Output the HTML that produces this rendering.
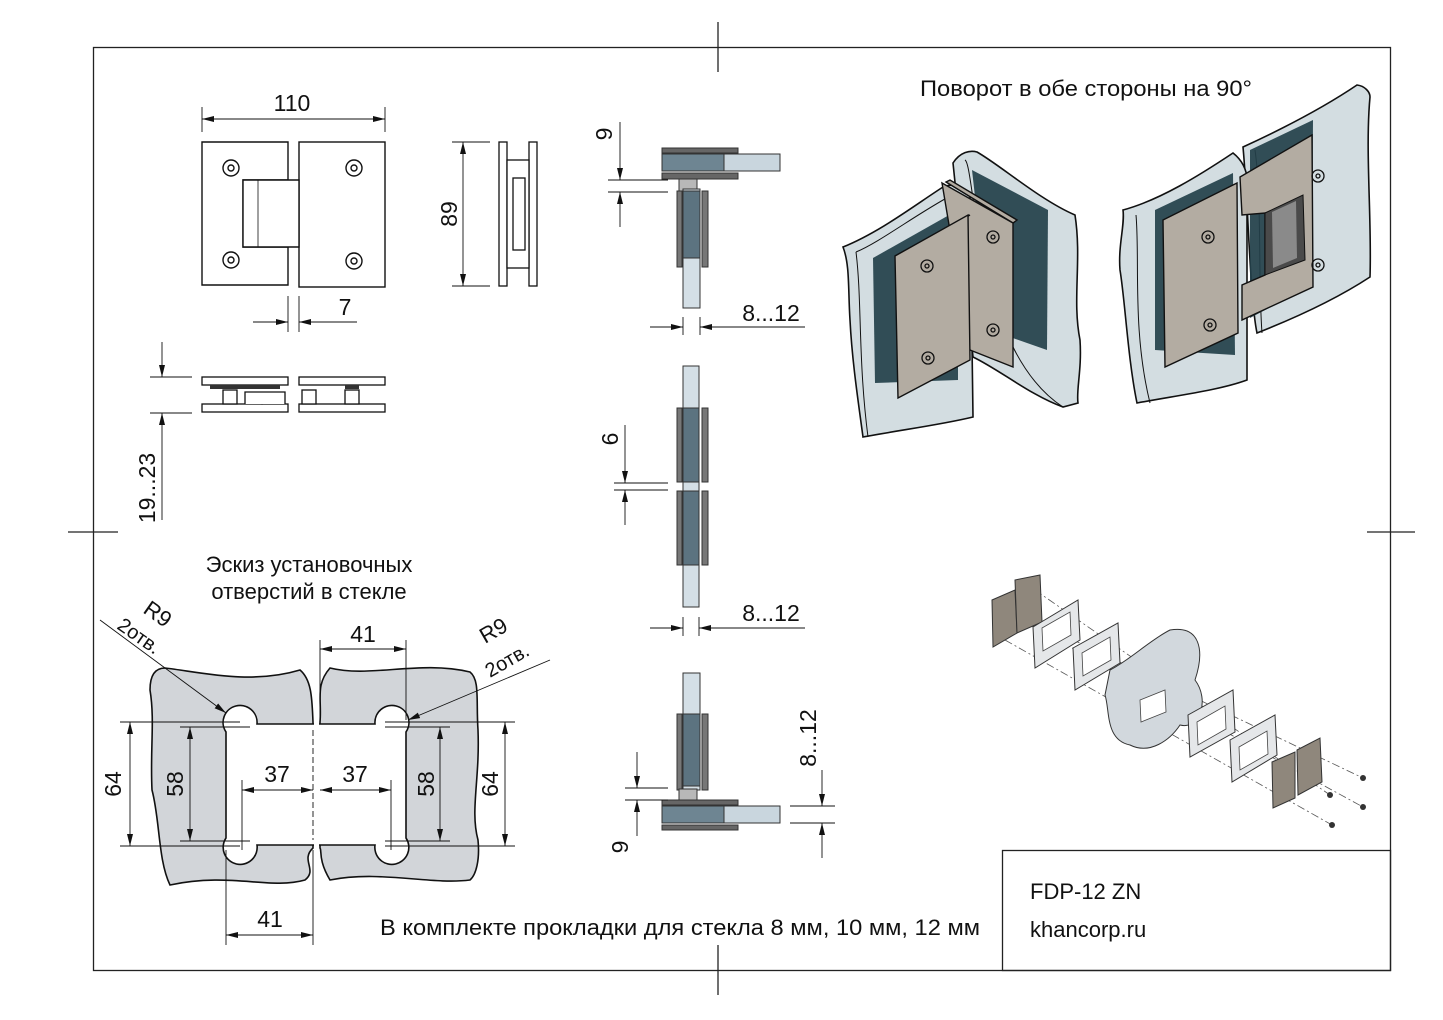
<!DOCTYPE html>
<html><head><meta charset="utf-8"><style>
html,body{margin:0;padding:0;background:#fff}
svg{display:block}
text{font-family:"Liberation Sans",sans-serif;fill:#111}
</style></head><body>
<svg width="1443" height="1020" viewBox="0 0 1443 1020" xmlns="http://www.w3.org/2000/svg">
<defs>
<marker id="a" viewBox="0 0 12 6" refX="12" refY="3" markerWidth="12" markerHeight="6" orient="auto-start-reverse" markerUnits="userSpaceOnUse"><path d="M0,0 L12,3 L0,6 z" fill="#111"/></marker>
</defs>
<rect width="1443" height="1020" fill="#fff"/>
<rect x="93.5" y="47.5" width="1297" height="923" fill="none" stroke="#222" stroke-width="1.3"/>
<g stroke="#222" stroke-width="1.3">
<line x1="718" y1="22" x2="718" y2="72"/><line x1="718" y1="945" x2="718" y2="995"/>
<line x1="68" y1="532" x2="118" y2="532"/><line x1="1367" y1="532" x2="1415" y2="532"/>
</g>
<rect x="1002.5" y="850.5" width="388" height="120" fill="none" stroke="#222" stroke-width="1.3"/>
<text x="1030" y="899" font-size="22">FDP-12 ZN</text>
<text x="1030" y="937" font-size="22">khancorp.ru</text>
<text x="920" y="96" font-size="22" textLength="332" lengthAdjust="spacingAndGlyphs">Поворот в обе стороны на 90°</text>

<!-- front view -->
<g stroke="#111" fill="none" stroke-width="1.4">
<path d="M202,142 H288 V180 H243 V247 H288 V285 H202 Z" fill="#fff"/>
<rect x="299" y="142" width="86" height="145"/>
<path d="M243,180 H299 V247 H243 Z" fill="#fff"/>
<line x1="258" y1="180" x2="258" y2="247" stroke-width="0.8"/>
<circle cx="231" cy="168" r="8"/><circle cx="231" cy="168" r="3"/>
<circle cx="354" cy="168" r="8"/><circle cx="354" cy="168" r="3"/>
<circle cx="231" cy="260" r="8"/><circle cx="231" cy="260" r="3"/>
<circle cx="354" cy="261" r="8"/><circle cx="354" cy="261" r="3"/>
</g>
<g stroke="#111" stroke-width="0.9" fill="none">
<line x1="202" y1="107" x2="202" y2="132"/><line x1="385" y1="107" x2="385" y2="132"/>
<line x1="202" y1="119" x2="385" y2="119" marker-start="url(#a)" marker-end="url(#a)"/>
<line x1="288" y1="296" x2="288" y2="332"/><line x1="299" y1="296" x2="299" y2="332"/>
<line x1="253" y1="322" x2="288" y2="322" marker-end="url(#a)"/>
<line x1="357" y1="322" x2="299" y2="322" marker-end="url(#a)"/>
<line x1="452" y1="142" x2="490" y2="142"/><line x1="452" y1="286" x2="490" y2="286"/>
<line x1="463" y1="142" x2="463" y2="286" marker-start="url(#a)" marker-end="url(#a)"/>
</g>
<text x="292" y="111" font-size="23" text-anchor="middle">110</text>
<text x="345" y="315" font-size="23" text-anchor="middle">7</text>
<text transform="translate(457,214) rotate(-90)" font-size="23" text-anchor="middle">89</text>
<g stroke="#111" stroke-width="1.3" fill="#fff">
<rect x="499" y="142" width="8" height="144"/>
<rect x="529" y="142" width="8" height="144"/>
<rect x="507" y="160" width="22" height="108"/>
<rect x="513" y="178" width="12" height="72"/>
</g>
<g stroke="#111" stroke-width="1.3" fill="#fff">
<rect x="202" y="377" width="86" height="8"/><rect x="299" y="377" width="86" height="8"/>
<rect x="202" y="404" width="86" height="8"/><rect x="299" y="404" width="86" height="8"/>
<rect x="223" y="390" width="14" height="14"/><rect x="302" y="390" width="14" height="14"/>
<rect x="345" y="390" width="14" height="14"/>
<circle cx="262" cy="399" r="5"/>
<path d="M245,404 V392 H285 V404"/>
</g>
<rect x="210" y="385" width="70" height="4" fill="#333"/><rect x="345" y="385" width="14" height="4" fill="#333"/>
<g stroke="#111" stroke-width="0.9" fill="none">
<line x1="150" y1="377" x2="192" y2="377"/><line x1="150" y1="413" x2="192" y2="413"/>
<line x1="162" y1="342" x2="162" y2="377" marker-end="url(#a)"/>
<line x1="162" y1="520" x2="162" y2="413" marker-end="url(#a)"/>
</g>
<text transform="translate(155,488) rotate(-90)" font-size="23" text-anchor="middle">19...23</text>

<!-- middle column -->
<g stroke="#333" stroke-width="1">
<rect x="662" y="148" width="76" height="5" fill="#666"/>
<rect x="662" y="154" width="118" height="17" fill="#c9d6de"/>
<rect x="662" y="154" width="62" height="17" fill="#6e8592"/>
<rect x="662" y="173" width="76" height="6" fill="#666"/>
<rect x="679" y="179" width="18" height="12" fill="#b8b8b8"/>
<rect x="683" y="189" width="17" height="119" fill="#d4dfe6"/>
<rect x="683" y="191" width="17" height="67" fill="#5c7380"/>
<rect x="677" y="191" width="5" height="76" fill="#777"/>
<rect x="702" y="191" width="6" height="76" fill="#777"/>
</g>
<g stroke="#333" stroke-width="1">
<rect x="683" y="366" width="16" height="241" fill="#d4dfe6"/>
<rect x="683" y="408" width="16" height="74" fill="#5c7380"/>
<rect x="683" y="491" width="16" height="74" fill="#5c7380"/>
<rect x="677" y="408" width="5" height="74" fill="#777"/><rect x="702" y="408" width="6" height="74" fill="#777"/>
<rect x="677" y="491" width="5" height="74" fill="#777"/><rect x="702" y="491" width="6" height="74" fill="#777"/>
</g>
<g stroke="#333" stroke-width="1">
<rect x="683" y="673" width="17" height="117" fill="#d4dfe6"/>
<rect x="683" y="714" width="17" height="72" fill="#5c7380"/>
<rect x="677" y="714" width="5" height="76" fill="#777"/><rect x="702" y="714" width="6" height="76" fill="#777"/>
<rect x="679" y="789" width="18" height="11" fill="#b8b8b8"/>
<rect x="662" y="800" width="76" height="5" fill="#666"/>
<rect x="662" y="806" width="118" height="17" fill="#c9d6de"/>
<rect x="662" y="806" width="62" height="17" fill="#6e8592"/>
<rect x="662" y="825" width="76" height="5" fill="#666"/>
</g>
<g stroke="#111" stroke-width="0.9" fill="none">
<line x1="608" y1="180" x2="668" y2="180"/><line x1="608" y1="192" x2="668" y2="192"/>
<line x1="620" y1="122" x2="620" y2="180" marker-end="url(#a)"/>
<line x1="620" y1="227" x2="620" y2="192" marker-end="url(#a)"/>
<line x1="683" y1="317" x2="683" y2="335"/><line x1="700" y1="317" x2="700" y2="335"/>
<line x1="650" y1="327" x2="683" y2="327" marker-end="url(#a)"/>
<line x1="805" y1="327" x2="700" y2="327" marker-end="url(#a)"/>
<line x1="614" y1="483" x2="668" y2="483"/><line x1="614" y1="490" x2="668" y2="490"/>
<line x1="625" y1="425" x2="625" y2="483" marker-end="url(#a)"/>
<line x1="625" y1="525" x2="625" y2="490" marker-end="url(#a)"/>
<line x1="683" y1="617" x2="683" y2="636"/><line x1="699" y1="617" x2="699" y2="636"/>
<line x1="650" y1="628" x2="683" y2="628" marker-end="url(#a)"/>
<line x1="805" y1="628" x2="699" y2="628" marker-end="url(#a)"/>
<line x1="625" y1="788" x2="668" y2="788"/><line x1="625" y1="800" x2="668" y2="800"/>
<line x1="637" y1="752" x2="637" y2="788" marker-end="url(#a)"/>
<line x1="637" y1="836" x2="637" y2="800" marker-end="url(#a)"/>
<line x1="790" y1="806" x2="835" y2="806"/><line x1="790" y1="823" x2="835" y2="823"/>
<line x1="822" y1="770" x2="822" y2="806" marker-end="url(#a)"/>
<line x1="822" y1="858" x2="822" y2="823" marker-end="url(#a)"/>
</g>
<text transform="translate(612,134) rotate(-90)" font-size="23" text-anchor="middle">9</text>
<text x="771" y="321" font-size="23" text-anchor="middle">8...12</text>
<text transform="translate(618,439) rotate(-90)" font-size="23" text-anchor="middle">6</text>
<text x="771" y="621" font-size="23" text-anchor="middle">8...12</text>
<text transform="translate(628,847) rotate(-90)" font-size="23" text-anchor="middle">9</text>
<text transform="translate(816,738) rotate(-90)" font-size="23" text-anchor="middle">8...12</text>

<!-- glass sketch -->
<text x="309" y="572" font-size="22" text-anchor="middle">Эскиз установочных</text>
<text x="309" y="599" font-size="22" text-anchor="middle">отверстий в стекле</text>
<g stroke="#111" stroke-width="1.6" fill="#d2d5d9">
<path d="M165,668 C200,672 250,685 300,670 C312,680 312,700 313,722 L313,848 C300,860 318,870 305,880 C270,890 230,872 170,885 C158,860 160,820 152,790 C150,750 155,720 150,690 C150,675 155,668 165,668 Z"/>
<path d="M330,668 C370,678 420,660 470,672 C480,680 476,700 478,730 C480,780 470,810 478,840 C480,860 476,875 470,880 C430,885 380,870 330,880 C318,860 322,850 320,848 L320,722 C322,700 315,685 330,668 Z"/>
</g>
<g stroke="#111" stroke-width="1.6" fill="#fff">
<path d="M314,724 H257 A17,17 0 1 0 226,732 V838 A17,17 0 1 0 257,845 H314"/>
<path d="M319,724 H375 A17,17 0 1 1 406,732 V838 A17,17 0 1 1 375,845 H319"/>
</g>
<rect x="313.5" y="726" width="5" height="118" fill="#fff"/>
<g stroke="#111" stroke-width="0.9" fill="none">
<line x1="120" y1="722" x2="240" y2="722"/><line x1="120" y1="846" x2="240" y2="846"/>
<line x1="130" y1="722" x2="130" y2="846" marker-start="url(#a)" marker-end="url(#a)"/>
<line x1="180" y1="727" x2="250" y2="727"/><line x1="180" y1="841" x2="250" y2="841"/>
<line x1="190" y1="727" x2="190" y2="841" marker-start="url(#a)" marker-end="url(#a)"/>
<line x1="242" y1="780" x2="242" y2="850"/>
<line x1="242" y1="790" x2="313" y2="790" marker-start="url(#a)" marker-end="url(#a)"/>
<line x1="320" y1="790" x2="391" y2="790" marker-start="url(#a)" marker-end="url(#a)"/>
<line x1="391" y1="780" x2="391" y2="850"/>
<line x1="320" y1="640" x2="320" y2="720"/><line x1="406" y1="640" x2="406" y2="720"/>
<line x1="320" y1="649" x2="406" y2="649" marker-start="url(#a)" marker-end="url(#a)"/>
<line x1="226" y1="850" x2="226" y2="945"/><line x1="313" y1="850" x2="313" y2="945"/>
<line x1="226" y1="935" x2="313" y2="935" marker-start="url(#a)" marker-end="url(#a)"/>
<line x1="385" y1="727" x2="450" y2="727"/><line x1="385" y1="841" x2="450" y2="841"/>
<line x1="440" y1="727" x2="440" y2="841" marker-start="url(#a)" marker-end="url(#a)"/>
<line x1="385" y1="722" x2="515" y2="722"/><line x1="385" y1="846" x2="515" y2="846"/>
<line x1="505" y1="722" x2="505" y2="846" marker-start="url(#a)" marker-end="url(#a)"/>
<line x1="100" y1="620" x2="226" y2="713" marker-end="url(#a)"/>
<line x1="550" y1="660" x2="408" y2="720" marker-end="url(#a)"/>
<line x1="313" y1="730" x2="313" y2="840" stroke-dasharray="6,3"/>
</g>
<text transform="translate(121,784) rotate(-90)" font-size="23" text-anchor="middle">64</text>
<text transform="translate(183,784) rotate(-90)" font-size="23" text-anchor="middle">58</text>
<text transform="translate(434,784) rotate(-90)" font-size="23" text-anchor="middle">58</text>
<text transform="translate(498,784) rotate(-90)" font-size="23" text-anchor="middle">64</text>
<text x="277" y="782" font-size="23" text-anchor="middle">37</text>
<text x="355" y="782" font-size="23" text-anchor="middle">37</text>
<text x="363" y="642" font-size="23" text-anchor="middle">41</text>
<text x="270" y="927" font-size="23" text-anchor="middle">41</text>
<text transform="translate(142,612) rotate(35)" font-size="22">R9</text>
<text transform="translate(116,628) rotate(35)" font-size="20">2отв.</text>
<text transform="translate(485,644) rotate(-30)" font-size="22">R9</text>
<text transform="translate(490,678) rotate(-30)" font-size="20">2отв.</text>
<text x="380" y="935" font-size="22" textLength="600" lengthAdjust="spacingAndGlyphs">В комплекте прокладки для стекла 8 мм, 10 мм, 12 мм</text>

<!-- left 3D render -->
<g stroke="#111" stroke-width="1.6" fill="#d3dde1">
<path d="M953,163 C960,152 970,150 977,152 C1000,165 1040,200 1075,215 C1082,260 1072,300 1080,340 C1082,370 1076,390 1078,403 L1063,407 C1030,395 1000,370 973,357 Z"/>
<path d="M843,247 C880,232 915,205 943,187 C955,182 965,188 970,197 L973,417 C940,425 900,430 863,437 C858,400 852,360 850,320 C848,290 850,265 843,247 Z"/>
</g>
<g stroke="#111" stroke-width="1" fill="none">
<path d="M856,252 C880,242 915,215 952,195"/>
<path d="M856,252 C862,300 858,360 868,437"/>
<path d="M965,160 C975,165 975,350 1063,407"/>
</g>
<path d="M972,170 L1048,210 L1047,350 L990,330 Z" fill="#23404a" opacity="0.92"/>
<path d="M873,258 L958,210 L958,380 L875,383 Z" fill="#23404a" opacity="0.92"/>
<g stroke="#111" stroke-width="1.4" fill="#b3aca2">
<path d="M946,182 L950,180 L1017,220 L1013,223 Z"/>
<path d="M942,183 L1013,223 L1013,367 L970,350 Z"/>
<path d="M895,256 L966,217 L970,215 L900,254 Z"/>
<path d="M895,256 L968,215 L970,360 L898,398 Z"/>
</g>
<g stroke="#111" stroke-width="1.3" fill="none">
<circle cx="927" cy="266" r="6"/><circle cx="927" cy="266" r="2"/>
<circle cx="928" cy="358" r="6"/><circle cx="928" cy="358" r="2"/>
<circle cx="993" cy="237" r="6"/><circle cx="993" cy="237" r="2"/>
<circle cx="993" cy="330" r="6"/><circle cx="993" cy="330" r="2"/>
</g>
<!-- right 3D render -->
<g stroke="#111" stroke-width="1.6" fill="#d3dde1">
<path d="M1243,147 C1280,130 1320,110 1357,85 C1365,86 1370,92 1370,97 C1365,150 1372,220 1370,277 C1335,300 1290,320 1257,333 C1250,300 1248,200 1243,147 Z"/>
<path d="M1123,210 C1160,200 1200,175 1233,153 C1242,160 1247,170 1247,180 L1247,380 C1220,390 1180,395 1137,403 C1128,360 1125,300 1120,270 C1118,245 1125,225 1123,210 Z"/>
</g>
<g stroke="#111" stroke-width="1" fill="none">
<path d="M1136,215 C1140,260 1132,330 1150,403"/>
<path d="M1255,150 C1262,200 1258,280 1262,333"/>
</g>
<path d="M1155,210 L1233,173 L1235,355 L1155,350 Z" fill="#23404a" opacity="0.92"/>
<path d="M1250,150 L1313,120 L1312,285 L1250,318 Z" fill="#23404a" opacity="0.92"/>
<g stroke="#111" stroke-width="1.4" fill="#b3aca2">
<path d="M1240,177 L1312,135 L1313,287 L1242,320 L1242,285 L1265,275 L1265,213 L1242,215 Z"/>
<path d="M1163,220 L1237,183 L1238,333 L1165,367 Z"/>
</g>
<path d="M1265,213 L1303,195 L1305,260 L1265,275 Z" fill="#4a4a4a" stroke="#111"/>
<path d="M1272,212 L1296,201 L1297,258 L1273,268 Z" fill="#8a8a8a"/>
<g stroke="#111" stroke-width="1.3" fill="none">
<circle cx="1208" cy="237" r="6"/><circle cx="1208" cy="237" r="2"/>
<circle cx="1210" cy="325" r="6"/><circle cx="1210" cy="325" r="2"/>
<circle cx="1318" cy="176" r="6"/><circle cx="1318" cy="176" r="2"/>
<circle cx="1318" cy="265" r="6"/><circle cx="1318" cy="265" r="2"/>
</g>

<!-- exploded view -->
<g stroke="#555" stroke-width="0.8" stroke-dasharray="8,3,2,3" fill="none">
<line x1="1000" y1="605" x2="1363" y2="778"/>
<line x1="1005" y1="640" x2="1332" y2="825"/>
<line x1="1035" y1="590" x2="1330" y2="795"/>
<line x1="1030" y1="625" x2="1363" y2="807"/>
</g>
<g stroke="#333" stroke-width="1">
<path d="M992,600 L1015,590 L1017,633 L993,647 Z" fill="#8f877c"/>
<path d="M1015,580 L1040,575 L1042,622 L1017,633 Z" fill="#8f877c"/>
<path d="M1033,627 L1078,600 L1080,640 L1035,668 Z" fill="#e5e7e9"/>
<path d="M1073,648 L1118,623 L1120,663 L1075,690 Z" fill="#e5e7e9"/>
<path d="M1110,670 C1130,660 1150,640 1170,630 C1200,625 1205,650 1195,680 C1210,700 1200,730 1180,725 C1170,740 1150,755 1130,745 C1105,740 1110,710 1105,695 Z" fill="#d2d8dd"/>
<path d="M1188,715 L1233,690 L1235,732 L1190,757 Z" fill="#e5e7e9"/>
<path d="M1230,740 L1275,715 L1277,755 L1232,782 Z" fill="#e5e7e9"/>
<path d="M1272,762 L1295,752 L1295,798 L1273,808 Z" fill="#8f877c"/>
<path d="M1297,750 L1320,738 L1322,782 L1298,795 Z" fill="#8f877c"/>
</g>
<g fill="#fff" stroke="#444" stroke-width="0.8">
<path d="M1042,628 L1070,612 L1071,635 L1043,651 Z"/>
<path d="M1082,653 L1110,637 L1111,660 L1083,676 Z"/>
<path d="M1197,722 L1225,706 L1226,729 L1198,745 Z"/>
<path d="M1239,747 L1267,731 L1268,754 L1240,770 Z"/>
<path d="M1140,700 L1165,690 L1166,712 L1141,722 Z"/>
</g>
<g fill="#333">
<circle cx="1363" cy="778" r="3"/><circle cx="1330" cy="795" r="3"/><circle cx="1363" cy="807" r="3"/><circle cx="1332" cy="825" r="3"/>
</g>
</svg>
</body></html>
